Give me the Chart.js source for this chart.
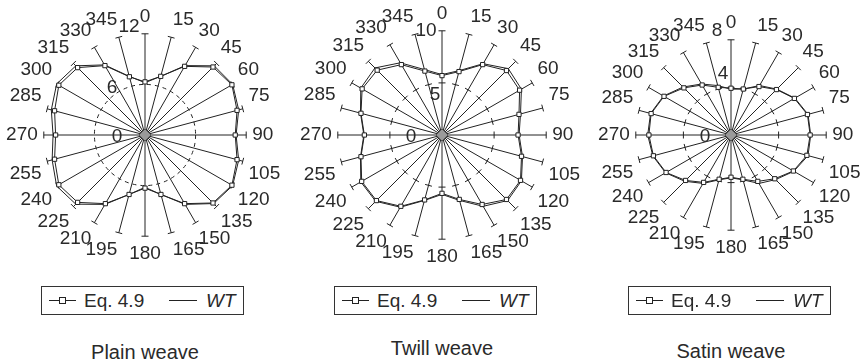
<!DOCTYPE html>
<html>
<head>
<meta charset="utf-8">
<script src="https://cdn.jsdelivr.net/npm/chart.js@4.4.0/dist/chart.umd.min.js"></script>
<style>
    body { margin: 0; background: #fff; width: 867px; height: 362px; position: relative; overflow: hidden;
           font-family: "Liberation Sans", Arial, sans-serif; color: #2a2a2a; }
    .panel { position: absolute; top: 0; width: 290px; height: 272px; }
    .legend { position: absolute; top: 286px; width: 203px; height: 29px; border: 1px solid #333;
              box-sizing: border-box; font-size: 19px; }
    .legend span { position: absolute; }
    .legend .ln { top: 13px; height: 0; border-top: 1px solid #222; }
    .legend .sq { top: 10px; width: 5px; height: 5px; border: 1px solid #222; background: #fff; }
    .legend .txt { top: 4px; line-height: 19px; }
    .title { position: absolute; width: 290px; text-align: center; font-size: 20px; line-height: 20px; }
</style>
</head>
<body>
<div class="panel" style="left:-1px"><canvas id="plainChart"></canvas></div>
<div class="panel" style="left:296px"><canvas id="twillChart"></canvas></div>
<div class="panel" style="left:585px"><canvas id="satinChart"></canvas></div>

<div class="legend" style="left:41px">
    <span class="ln" style="left:7px;width:27px"></span><span class="sq" style="left:17px"></span>
    <span class="txt" style="left:42px">Eq. 4.9</span>
    <span class="ln" style="left:127px;width:28px"></span>
    <span class="txt" style="left:164px"><i>WT</i></span>
</div>
<div class="legend" style="left:334px">
    <span class="ln" style="left:7px;width:27px"></span><span class="sq" style="left:17px"></span>
    <span class="txt" style="left:42px">Eq. 4.9</span>
    <span class="ln" style="left:127px;width:28px"></span>
    <span class="txt" style="left:164px"><i>WT</i></span>
</div>
<div class="legend" style="left:628px">
    <span class="ln" style="left:7px;width:27px"></span><span class="sq" style="left:17px"></span>
    <span class="txt" style="left:42px">Eq. 4.9</span>
    <span class="ln" style="left:127px;width:28px"></span>
    <span class="txt" style="left:164px"><i>WT</i></span>
</div>

<div class="title" style="left:0px;top:342px">Plain weave</div>
<div class="title" style="left:297px;top:338px">Twill weave</div>
<div class="title" style="left:586px;top:341px">Satin weave</div>

<script>
/* ---- data ---- */
const angleLabels = ['0', '15', '30', '45', '60', '75', '90', '105', '120', '135', '150', '165',
                     '180', '195', '210', '225', '240', '255', '270', '285', '300', '315', '330', '345'];

const plainEq = [6.3, 7.2, 9.4, 11.4, 11.9, 11.3, 10.7, 11.3, 11.9, 11.4, 9.4, 7.3,
                 6.3, 7.3, 9.4, 11.3, 11.8, 11.1, 10.6, 11.1, 11.8, 11.3, 9.5, 7.15];
const plainWT = [6.2, 7.2, 9.5, 11.6, 12.0, 11.5, 10.8, 11.5, 12.0, 11.5, 9.5, 7.3,
                 6.2, 7.3, 9.5, 11.6, 12.1, 11.4, 10.9, 11.5, 12.1, 11.6, 9.6, 7.2];

const twillEq = [5.7, 6.3, 7.8, 8.75, 8.6, 7.65, 7.3, 7.9, 8.7, 8.75, 7.7, 6.4,
                 5.6, 6.45, 7.9, 8.9, 8.9, 8.05, 7.45, 8.05, 8.85, 8.8, 7.8, 6.35];
const twillWT = [5.8, 6.4, 7.9, 9.0, 8.8, 7.8, 7.4, 8.0, 8.8, 8.9, 7.9, 6.5,
                 5.7, 6.5, 8.0, 9.0, 9.0, 8.1, 7.5, 8.1, 9.0, 9.1, 8.0, 6.5];

const satinEq = [3.93, 4.0, 4.7, 5.4, 6.15, 6.65, 6.65, 6.6, 6.05, 5.2, 4.5, 3.85,
                 3.55, 3.85, 4.6, 5.4, 6.3, 6.75, 6.9, 6.95, 6.5, 5.6, 4.85, 4.15];
const satinWT = [3.85, 4.0, 4.8, 5.45, 6.2, 6.7, 6.7, 6.7, 6.1, 5.3, 4.7, 3.9,
                 3.6, 3.9, 4.7, 5.5, 6.35, 6.8, 7.0, 7.0, 6.55, 5.7, 4.95, 4.3];

const plainTicks = [0, 6, 12];
const twillTicks = [0, 5, 10];
const satinTicks = [0, 4, 8];

/* ---- shared look ---- */
const FONT = '"Liberation Sans", Arial, sans-serif';
const INK = '#222';

// spoke end bars, mid bars, tick labels and the centre blob
const spokeDecor = {
    id: 'spokeDecor',
    beforeDatasetsDraw(chart, args, opts) {
        const scale = chart.scales.r;
        const ctx = chart.ctx;
        const n = chart.data.labels.length;
        ctx.save();
        ctx.strokeStyle = INK;
        ctx.lineWidth = 1;
        const bar = (i, value) => {
            const p = scale.getPointPositionForValue(i, value);
            const px = -Math.sin(p.angle) * 3.5;
            const py = Math.cos(p.angle) * 3.5;
            ctx.beginPath();
            ctx.moveTo(p.x - px, p.y - py);
            ctx.lineTo(p.x + px, p.y + py);
            ctx.stroke();
        };
        for (let i = 0; i < n; i++) {
            bar(i, scale.max);
            if (opts.midBars) bar(i, opts.ticks[1]);
        }
        ctx.restore();
    },
    afterDraw(chart, args, opts) {
        const scale = chart.scales.r;
        const ctx = chart.ctx;
        ctx.save();
        // centre blob
        ctx.fillStyle = '#9a9a9a';
        ctx.strokeStyle = '#555';
        ctx.beginPath();
        ctx.moveTo(scale.xCenter, scale.yCenter - 6);
        ctx.lineTo(scale.xCenter + 6, scale.yCenter);
        ctx.lineTo(scale.xCenter, scale.yCenter + 6);
        ctx.lineTo(scale.xCenter - 6, scale.yCenter);
        ctx.closePath();
        ctx.fill();
        ctx.stroke();
        // radial tick labels
        ctx.fillStyle = '#2a2a2a';
        ctx.font = '19px ' + FONT;
        ctx.textAlign = 'center';
        ctx.textBaseline = 'middle';
        opts.ticks.forEach((v, k) => {
            const p = scale.getPointPositionForValue(0, v);
            const off = opts.labelOffsets[k];
            ctx.fillText(String(v), p.x + off[0], p.y + off[1]);
        });
        ctx.restore();
    }
};

const makePolar = (id, eq, wt, ticks, dashedRing, labelOffsets, pad) => {
    const ctx = document.getElementById(id).getContext('2d');
    return new Chart(ctx, {
        type: 'radar',
        data: {
            labels: angleLabels,
            datasets: [{
                label: 'Eq. 4.9',
                data: eq,
                borderColor: INK,
                borderWidth: 1,
                fill: false,
                pointStyle: 'rect',
                pointRadius: 3,
                pointBorderWidth: 1,
                pointBorderColor: INK,
                pointBackgroundColor: '#fff'
            }, {
                label: 'WT',
                data: wt,
                borderColor: INK,
                borderWidth: 1,
                fill: false,
                pointRadius: 0
            }]
        },
        options: {
            responsive: true,
            maintainAspectRatio: false,
            animation: false,
            layout: { padding: pad },
            scales: {
                r: {
                    min: ticks[0],
                    max: ticks[2],
                    ticks: { display: false, stepSize: ticks[1] },
                    grid: {
                        circular: true,
                        color: (c) => (dashedRing && c.tick && c.tick.value === ticks[1]) ? INK : 'transparent'
                    },
                    border: { dash: [4, 4] },
                    angleLines: { color: INK, lineWidth: 1 },
                    pointLabels: { color: '#2a2a2a', padding: 6, font: { size: 19, family: FONT } }
                }
            },
            plugins: {
                legend: { display: false },
                tooltip: { enabled: false },
                spokeDecor: { ticks: ticks, midBars: !dashedRing, labelOffsets: labelOffsets }
            }
        },
        plugins: [spokeDecor]
    });
};

makePolar('plainChart', plainEq, plainWT, plainTicks, true,
    [[-28, 2], [-33, 3], [-16, -7]], 6);
makePolar('twillChart', twillEq, twillWT, twillTicks, false,
    [[-31, 2], [-7, 12], [-16, 0]], 3);
makePolar('satinChart', satinEq, satinWT, satinTicks, false,
    [[-26, 2], [-8, -14], [-14, -9]], 12);
</script>
</body>
</html>
